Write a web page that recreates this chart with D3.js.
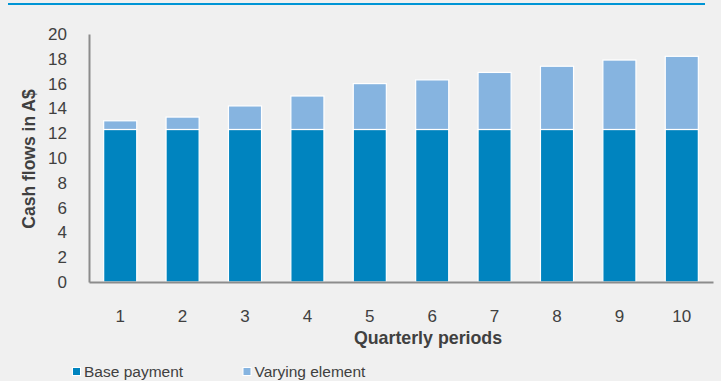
<!DOCTYPE html>
<html><head><meta charset="utf-8">
<script src="https://cdn.jsdelivr.net/npm/d3@7"></script>
<style>
html,body{margin:0;padding:0;background:#f0f0f0;}
svg{display:block;font-family:"Liberation Sans",Arial,sans-serif;}
</style></head><body>
<svg id="chart" width="721" height="381"></svg>
<script>
const categories = ["1","2","3","4","5","6","7","8","9","10"];
const basePayment = [12.3,12.3,12.3,12.3,12.3,12.3,12.3,12.3,12.3,12.3];
const totalFlow = [13.0,13.3,14.2,15.0,16.0,16.3,16.9,17.4,17.9,18.2];
const varyingElement = totalFlow.map((t,i)=>+(t-basePayment[i]).toFixed(2));
const yTicks = [0,2,4,6,8,10,12,14,16,18,20];
const seriesNames = ["Base payment","Varying element"];
const colors = ["#0084bf","#86b4e0"];

const svg = d3.select("#chart");
const W=721,H=381;
svg.append("rect").attr("width",W).attr("height",H).attr("fill","#f0f0f0");
svg.append("line").attr("x1",8).attr("x2",705).attr("y1",4).attr("y2",4)
  .attr("stroke","#0095d5").attr("stroke-width",2);

const x = d3.scaleBand().domain(categories).range([89,713]).paddingInner(0.47).paddingOuter(0.235);
const y = d3.scaleLinear().domain([0,20]).range([282,34]);

const stackData = categories.map((c,i)=>({cat:c, base:basePayment[i], vary:varyingElement[i]}));
const stack = d3.stack().keys(["base","vary"])(stackData);

svg.append("g").selectAll("g").data(stack).join("g")
  .attr("fill",(d,i)=>colors[i])
  .selectAll("rect").data(d=>d).join("rect")
  .attr("x",d=>x(d.data.cat))
  .attr("width",x.bandwidth())
  .attr("y",d=>y(d[1]))
  .attr("height",d=>y(d[0])-y(d[1]))
  .attr("stroke","#ffffff").attr("stroke-width",1.2);

// y axis
const yAxis = svg.append("g").attr("transform","translate(89,0)")
  .call(d3.axisLeft(y).tickValues(yTicks).tickSize(0).tickPadding(22));
yAxis.select(".domain").attr("stroke","#8c8c8c").attr("stroke-width",2);
yAxis.selectAll("text").attr("font-size",17).attr("fill","#404040")
  .attr("font-family","'Liberation Sans',Arial,sans-serif");

// x axis
const xAxis = svg.append("g").attr("transform","translate(0,282)")
  .call(d3.axisBottom(x).tickSize(0).tickPadding(28));
xAxis.select(".domain").attr("stroke","#8c8c8c").attr("stroke-width",2);
xAxis.selectAll("text").attr("font-size",17).attr("fill","#404040")
  .attr("font-family","'Liberation Sans',Arial,sans-serif");

svg.append("text").attr("x",428).attr("y",344).attr("text-anchor","middle")
  .attr("font-size",17.8).attr("font-weight","bold").attr("fill","#404040")
  .text("Quarterly periods");
svg.append("text").attr("transform","translate(35,159) rotate(-90)").attr("text-anchor","middle")
  .attr("font-size",17.5).attr("font-weight","bold").attr("fill","#404040")
  .text("Cash flows in A$");

// legend
const legX = [72.5,243];
const leg = svg.append("g").selectAll("g").data(seriesNames).join("g")
  .attr("transform",(d,i)=>`translate(${legX[i]},367.5)`);
leg.append("rect").attr("width",8).attr("height",8).attr("fill",(d,i)=>colors[i])
  .attr("stroke","#fff").attr("stroke-width",1);
leg.append("text").attr("x",11.5).attr("y",9.5).attr("font-size",15.5).attr("fill","#404040")
  .text(d=>d);
</script>
</body></html>
